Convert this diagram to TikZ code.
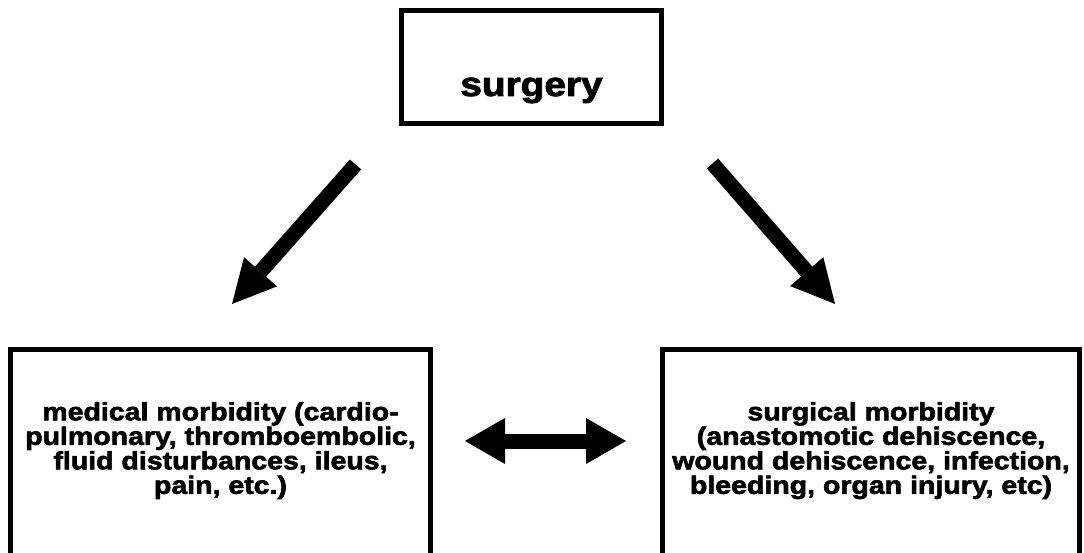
\documentclass[tikz,border=0pt]{standalone}
\usepackage{fontspec}
\setmainfont{Liberation Sans}
\newfontfamily\heavy{Liberation Sans}[FakeStretch=1.14,FakeBold=2.5]
\usetikzlibrary{arrows.meta}
\begin{document}
\begin{tikzpicture}[x=1pt,y=-1pt,
  box/.style={draw=black, line width=5pt, inner sep=0pt},
  bigarrow/.style={draw=black, line width=15pt, line cap=butt,
    -{Triangle[length=43pt,width=44pt,line width=0pt]}},
  dblarrow/.style={draw=black, line width=15pt,
    {Triangle[length=40pt,width=46pt,line width=0pt]}-{Triangle[length=40pt,width=46pt,line width=0pt]}},
  topfont/.style={font=\heavy\bfseries\fontsize{34}{40}\selectfont},
  lowfont/.style={font=\heavy\bfseries\fontsize{25}{24.5}\selectfont}]
\clip (0,0) rectangle (1084,553);
\fill[white] (0,0) rectangle (1084,553);
% top box
\node[box, topfont, minimum width=260pt, minimum height=113pt,
      text height=63pt, text depth=5pt] (surgery) at (531.5,67) {surgery};
% bottom boxes (run off the bottom edge)
\node[box, lowfont, align=center, minimum width=420pt, minimum height=219pt,
      text depth=22pt]
  (medical) at (220.5,459)
  {medical morbidity (cardio-\\pulmonary, thromboembolic,\\fluid disturbances, ileus,\\pain, etc.)};
\node[box, lowfont, align=center, minimum width=417pt, minimum height=219pt,
      text depth=22pt]
  (surgical) at (871,459)
  {surgical morbidity\\(anastomotic dehiscence,\\wound dehiscence, infection,\\bleeding, organ injury, etc)};
% arrow ends
\coordinate (ltail) at (355.5,164.5);
\coordinate (lhead) at (232,304);
\coordinate (rtail) at (712.5,163.5);
\coordinate (rhead) at (835,304);
\coordinate (dleft) at (465,441);
\coordinate (dright) at (626,441);
\draw[bigarrow] (ltail) -- (lhead);
\draw[bigarrow] (rtail) -- (rhead);
\draw[dblarrow] (dleft) -- (dright);
\end{tikzpicture}
\end{document}
